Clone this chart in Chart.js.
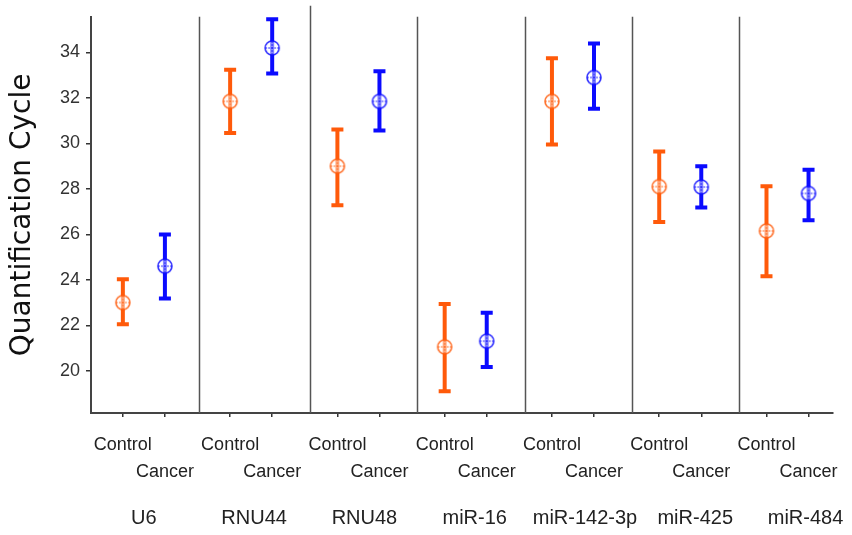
<!DOCTYPE html>
<html><head><meta charset="utf-8">
<script src="https://cdn.jsdelivr.net/npm/chart.js@4.4.1/dist/chart.umd.min.js"></script>
<style>html,body{margin:0;padding:0;background:#fff}#wrap{width:852px;height:535px}</style>
</head><body><div id="wrap"><canvas id="c" width="852" height="535"></canvas></div>
<script>
const groups = ['U6', 'RNU44', 'RNU48', 'miR-16', 'miR-142-3p', 'miR-425', 'miR-484'];
const seriesNames = ['Control', 'Cancer'];
const controlMean = [23.0, 31.85, 29.0, 21.05, 31.85, 28.1, 26.15];
const controlLow  = [22.04, 30.46, 27.28, 19.1, 29.95, 26.54, 24.16];
const controlHigh = [24.02, 33.24, 30.61, 22.93, 33.75, 29.64, 28.11];
const cancerMean  = [24.6, 34.2, 31.85, 21.3, 32.9, 28.08, 27.8];
const cancerLow   = [23.18, 33.08, 30.57, 20.16, 31.53, 27.18, 26.62];
const cancerHigh  = [25.99, 35.46, 33.17, 22.55, 34.39, 28.99, 28.84];
const yTicks = [20, 22, 24, 26, 28, 30, 32, 34];

const ORANGE = '#ff5a0a', BLUE = '#0b0bff';
const OFF = 0.196;

function marker(color) {
  const c = document.createElement('canvas');
  c.width = c.height = 18;
  const g = c.getContext('2d');
  g.strokeStyle = color; g.fillStyle = 'rgba(255,255,255,0.6)';
  g.globalAlpha = 0.85;
  g.lineWidth = 1.6;
  g.beginPath(); g.arc(9, 9, 7, 0, 2 * Math.PI); g.fill(); g.stroke();
  g.lineWidth = 1; g.setLineDash([2, 1]);
  g.beginPath(); g.moveTo(9, 2); g.lineTo(9, 16); g.moveTo(2, 9); g.lineTo(16, 9); g.stroke();
  return c;
}

const series = [
  {name: seriesNames[0], mean: controlMean, low: controlLow, high: controlHigh, color: ORANGE, off: -OFF},
  {name: seriesNames[1], mean: cancerMean, low: cancerLow, high: cancerHigh, color: BLUE, off: OFF}
];

const errorBars = {
  id: 'errorBars',
  beforeDatasetsDraw(chart) {
    const ctx = chart.ctx, xs = chart.scales.x, ys = chart.scales.y, ca = chart.chartArea;
    ctx.save();
    ctx.strokeStyle = '#555'; ctx.lineWidth = 1.5;
    for (let g = 0; g < groups.length - 1; g++) {
      const x = Math.round(xs.getPixelForValue(g + (g === 0 ? 0.51 : 0.55))) + 0.5;
      ctx.beginPath(); ctx.moveTo(x, ca.top - (g === 1 ? 11 : 0)); ctx.lineTo(x, ca.bottom); ctx.stroke();
    }
    series.forEach(s => {
      ctx.strokeStyle = s.color;
      groups.forEach((_, g) => {
        const x = xs.getPixelForValue(g + s.off);
        const yl = ys.getPixelForValue(s.low[g]), yh = ys.getPixelForValue(s.high[g]);
        ctx.lineWidth = 4;
        ctx.beginPath(); ctx.moveTo(x, yl); ctx.lineTo(x, yh); ctx.stroke();
        ctx.beginPath(); ctx.moveTo(x - 6, yl); ctx.lineTo(x + 6, yl);
        ctx.moveTo(x - 6, yh); ctx.lineTo(x + 6, yh); ctx.stroke();
      });
    });
    ctx.restore();
  },
  afterDraw(chart) {
    const ctx = chart.ctx, xs = chart.scales.x;
    ctx.save();
    ctx.fillStyle = '#222'; ctx.textAlign = 'center'; ctx.textBaseline = 'middle';
    ctx.font = '18px "Liberation Sans", Arial, sans-serif';
    groups.forEach((name, g) => {
      ctx.fillText(seriesNames[0], xs.getPixelForValue(g - OFF), 445);
      ctx.fillText(seriesNames[1], xs.getPixelForValue(g + OFF), 472);
    });
    ctx.font = '20px "Liberation Sans", Arial, sans-serif';
    groups.forEach((name, g) => {
      ctx.fillText(name, xs.getPixelForValue(g) + g * 3, 518);
    });
    ctx.restore();
  }
};

const tickPositions = [];
groups.forEach((_, g) => { tickPositions.push(g - OFF, g + OFF); });

new Chart(document.getElementById('c'), {
  type: 'scatter',
  data: {
    datasets: series.map(s => ({
      label: s.name,
      data: s.mean.map((v, g) => ({x: g + s.off, y: v})),
      pointStyle: marker(s.color),
      pointRadius: 9,
      showLine: false
    }))
  },
  options: {
    responsive: false, animation: false,
    layout: {padding: {top: 16, right: 19, left: 0, bottom: 0}},
    plugins: {legend: {display: false}, tooltip: {enabled: false}},
    scales: {
      x: {
        type: 'linear', min: -0.493, max: 6.424,
        afterBuildTicks: s => { s.ticks = tickPositions.map(v => ({value: v})); },
        afterFit: s => { s.height = 122; },
        grid: {drawOnChartArea: false, drawTicks: true, tickLength: 4, color: '#333', lineWidth: 1.5},
        border: {color: '#444', width: 2},
        ticks: {callback: () => '', autoSkip: false}
      },
      y: {
        type: 'linear', min: 18.14, max: 35.57,
        afterBuildTicks: s => { s.ticks = yTicks.map(v => ({value: v})); },
        afterFit: s => { s.width = 91; },
        grid: {drawOnChartArea: false, drawTicks: true, tickLength: 5, color: '#333', lineWidth: 1.5},
        border: {color: '#444', width: 2},
        ticks: {color: '#333', padding: 6, font: {family: '"Liberation Sans", Arial, sans-serif', size: 18}},
        title: {display: true, text: 'Quantification Cycle', color: '#111', padding: {top: 6, bottom: 0},
          font: {family: '"DejaVu Sans", sans-serif', size: 28, weight: 'normal'}}
      }
    }
  },
  plugins: [errorBars]
});
</script></body></html>
